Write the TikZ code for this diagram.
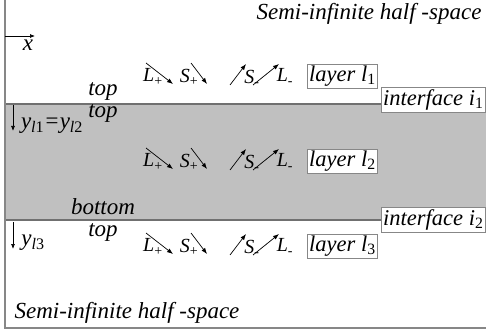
\documentclass[tikz,border=0pt]{standalone}
\usepackage{fontspec}
\setmainfont{Liberation Serif}
\usetikzlibrary{arrows.meta,positioning}
\definecolor{lygray}{RGB}{192,192,192}
\definecolor{lyline}{RGB}{112,112,112}
\definecolor{lyframe}{RGB}{135,135,135}

\begin{document}
\begin{tikzpicture}[
  x=1pt, y=-1pt,
  txt/.style={inner sep=0pt, font=\fontsize{23}{26}\selectfont\itshape},
  wtxt/.style={inner sep=0pt, font=\fontsize{20}{22}\selectfont\itshape},
  tagbox/.style={rectangle, draw=lyframe, fill=white, inner sep=2pt, font=\fontsize{22.5}{25}\selectfont\itshape},
  wave/.style={-{Latex[length=6pt,width=4.5pt]}, line width=0.7pt},
  axis/.style={-{Latex[length=5pt,width=4pt]}, line width=0.7pt}
]
\useasboundingbox (0,0) rectangle (486,331);

% Layer 2 - shaded band
\fill[lygray] (5,104) rectangle (486,220);
\draw[lyline, line width=1.5pt] (5,104) -- (486,104);
\draw[lyline, line width=1.5pt] (5,220) -- (486,220);

% Frame
\draw[lyframe, line width=1.5pt] (5,0) -- (5,328) -- (486,328);

% Half-spaces
\node[txt] (upper) at (369,14) {Semi-infinite half -space};
\node[txt] (lower) at (127,313) {Semi-infinite half -space};

% Axes
\coordinate (xo) at (5,36);
\coordinate (xe) at (35,36);
\draw[axis] (xo) -- (xe);
\node[txt] (xlab) at (28,45) {x};

\coordinate (ya) at (13,105);
\coordinate (yb) at (13,131);
\draw[axis] (ya) -- (yb);
\node[txt] (ylab1) at (52,126) {y\textsubscript{l\upshape 1}=y\textsubscript{l\upshape 2}};

\coordinate (yc) at (13,222);
\coordinate (yd) at (13,249);
\draw[axis] (yc) -- (yd);
\node[txt] (ylab3) at (33,243) {y\textsubscript{l\upshape 3}};

% Surfaces
\node[txt] (top1) at (103,91) {top};
\node[txt] (top2) at (103,113) {top};
\node[txt] (bot2) at (103,207) {bottom};
\node[txt] (top3) at (103,232) {top};

% Interfaces
\node[tagbox, anchor=west] (int1) at (381,100) {interface i\textsubscript{\upshape 1}};
\node[tagbox, anchor=west] (int2) at (381,220) {interface i\textsubscript{\upshape 2}};

% Waves in each layer
\foreach \n/\dy in {1/0,2/85,3/170}{
  \begin{scope}[shift={(0,\dy)}]
    \coordinate (lp\n s) at (146,63); \coordinate (lp\n e) at (173,84);
    \coordinate (sp\n s) at (191,63); \coordinate (sp\n e) at (207,84);
    \coordinate (sm\n s) at (230,85); \coordinate (sm\n e) at (246,64);
    \coordinate (lm\n s) at (253,85); \coordinate (lm\n e) at (279,64);
    \draw[wave] (lp\n s) -- (lp\n e);
    \draw[wave] (sp\n s) -- (sp\n e);
    \draw[wave] (sm\n s) -- (sm\n e);
    \draw[wave] (lm\n s) -- (lm\n e);
    \node[wtxt] (lp\n) at (153,77) {L\textsubscript{\upshape +}};
    \node[wtxt] (sp\n) at (189,77) {S\textsubscript{\upshape +}};
    \node[wtxt] (sm\n) at (252,78) {S\textsubscript{\upshape -}};
    \node[wtxt] (lm\n) at (285,77) {L\textsubscript{\upshape -}};
    \node[tagbox, anchor=west] (layer\n) at (307,76) {layer l\textsubscript{\upshape\n}};
  \end{scope}
}

\end{tikzpicture}
\end{document}
